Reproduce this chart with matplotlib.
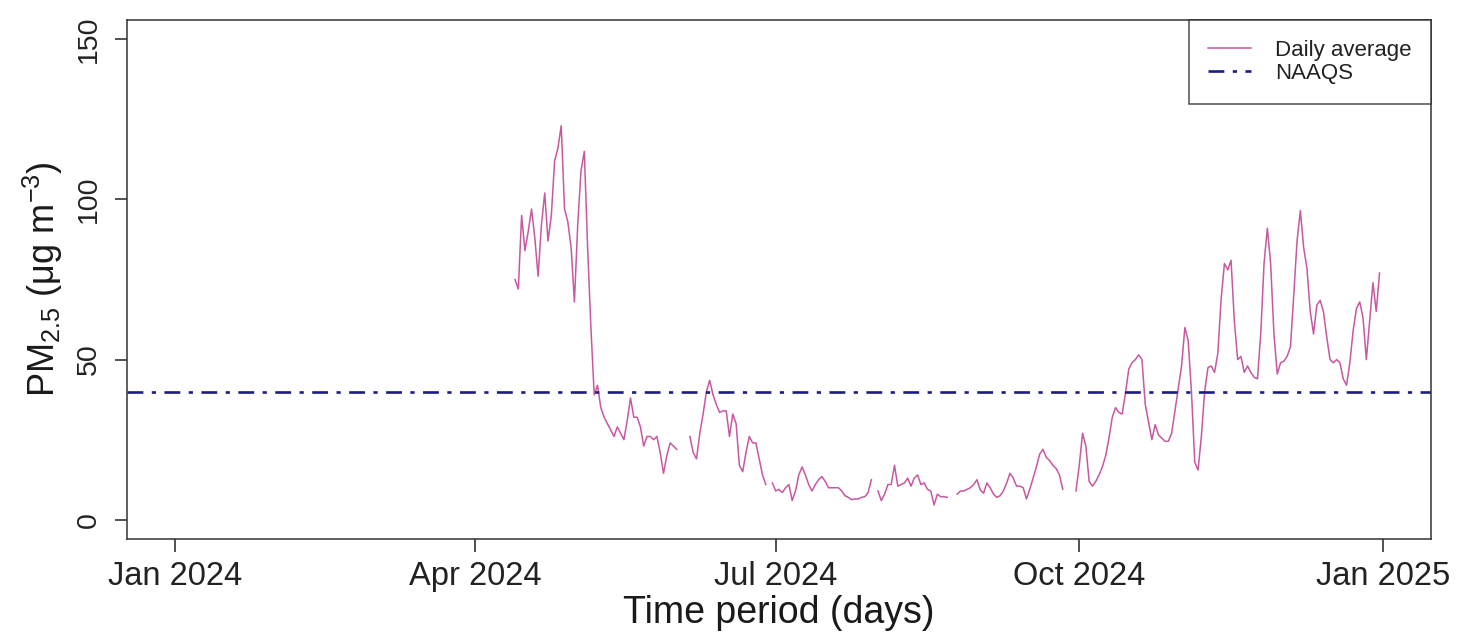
import numpy as np
import pandas as pd
import matplotlib
matplotlib.use("Agg")
import matplotlib.pyplot as plt

plt.rcParams["font.family"] = ["Liberation Sans", "DejaVu Sans"]
plt.rcParams["mathtext.fontset"] = "custom"
plt.rcParams["mathtext.rm"] = "Liberation Sans"
plt.rcParams["mathtext.default"] = "regular"

# daily mean PM2.5, 13 Apr 2024 .. 31 Dec 2024 (nan = missing day)
nan = np.nan
pm25 = [
    75, 72, 95, 84, 90, 97, 88, 76, 92, 102,
    87, 95, 112, 116, 123, 97, 93, 85, 68, 92,
    109, 115, 85, 60, 39, 42, 35, 32, 30, 28,
    26, 29, 27, 25, 31, 38, 32, 32, 29, 23,
    26, 26, 25, 26, 21, 14.5, 20, 24, 23, 22,
    nan, nan, nan, 26, 21, 19, 27, 33, 40, 43.5,
    39, 36, 33.5, 34, 34, 26, 33, 30, 17, 15,
    21, 26, 24, 24, 19, 14, 11, nan, 11.5, 9,
    9.5, 8.5, 10, 11, 6, 9, 14, 16.5, 14, 11,
    9, 11, 12.5, 13.5, 12, 10, 10, 10, 10, 9,
    7.5, 7, 6.3, 6.5, 6.5, 7, 7.2, 8.5, 12.5, nan,
    9, 6, 8, 11, 11, 17, 10.5, 11, 11.5, 13,
    10.5, 13, 14, 11, 11.5, 9.5, 9, 4.6, 8, 7.2,
    7.2, 7, nan, nan, 8, 9, 9, 9.5, 10, 11,
    12.5, 9.3, 8.3, 11.5, 10, 8, 7, 7.5, 9, 11.5,
    14.5, 13, 10.5, 10.5, 10, 6.5, 9.5, 13, 16.5, 20.5,
    22, 19.5, 18.5, 17, 16, 14, 9.5, nan, nan, nan,
    9, 17, 27, 23, 12, 10.5, 12, 14, 16.5, 20,
    25.5, 32, 35, 33.5, 33, 39.5, 47, 49, 50, 51.5,
    50, 36, 30.5, 25, 29.7, 26.5, 25.5, 24.5, 24.5, 27,
    34, 41, 48, 60, 56, 40, 18, 15.5, 26, 40,
    47.5, 48, 46, 52, 69, 80, 78, 81, 62, 50,
    51, 46, 48, 46, 44.5, 44, 58, 80, 91, 80,
    58, 45.5, 49, 49.5, 51, 54, 70, 87, 96.5, 85,
    78.5, 65, 58, 67, 68.5, 65, 57, 50, 49, 50,
    49, 44, 42, 49, 59, 66, 68, 63, 50, 62,
    74, 65, 77,
]
days = pd.date_range("2024-04-13", "2024-12-31", freq="D")
naaqs = 40

tick_dates = pd.to_datetime(["2024-01-01", "2024-04-01", "2024-07-01",
                             "2024-10-01", "2025-01-01"])
tick_labels = ["Jan 2024", "Apr 2024", "Jul 2024", "Oct 2024", "Jan 2025"]
y_ticks = [0, 50, 100, 150]

fig = plt.figure(figsize=(14.68, 6.39), dpi=100)
ax = fig.add_axes([0.0865, 0.1565, 0.8883, 0.8122])

ax.plot(days, pm25, color="#c8589f", lw=1.1, label="Daily average")
ax.axhline(naaqs, color="#1c1c86", lw=1.9, linestyle=(0, (6, 3.2, 1.6, 3.2)),
           label="NAAQS")

pad = pd.Timedelta(days=14.6)
ax.set_xlim(tick_dates[0] - pad, tick_dates[-1] + pad)
ax.set_ylim(-6, 156)

ax.set_xticks(tick_dates)
ax.set_xticklabels(tick_labels)
ax.set_yticks(y_ticks)
ax.set_yticklabels([str(v) for v in y_ticks], rotation=90, va="center")
ax.tick_params(direction="out", length=9, width=1.1, colors="#222222")
ax.tick_params(axis="x", labelsize=23.5, pad=7)
ax.tick_params(axis="y", labelsize=20.5, pad=9)

for s in ax.spines.values():
    s.set_color("#333333")
    s.set_linewidth(1.1)

ax.set_xlabel("Time period (days)", fontsize=27, color="#1a1a1a", labelpad=2)
ax.set_ylabel(r"PM$_{2.5}$ ($\mu$g m$^{-3}$)", fontsize=26, color="#1a1a1a",
              labelpad=8)

leg = ax.legend(loc="upper right", fontsize=16, frameon=True, fancybox=False,
                borderaxespad=0, handlelength=1.9, handletextpad=1.1,
                borderpad=0.88, labelspacing=0.12)
leg.get_frame().set_edgecolor("#222222")
leg.get_frame().set_linewidth(1.1)
for t in leg.get_texts():
    t.set_color("#222222")

fig.savefig("out.png", dpi=100)
